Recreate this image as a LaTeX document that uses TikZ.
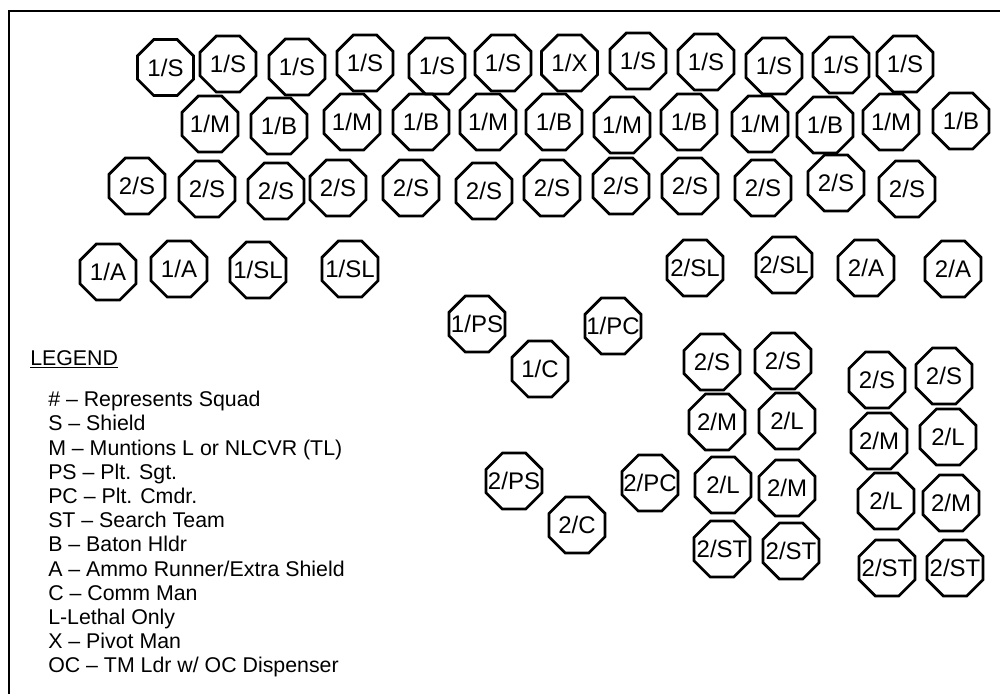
\documentclass[tikz,border=0pt]{standalone}
\usepackage{fontspec}
\setmainfont{Liberation Sans}
\usetikzlibrary{shapes.geometric}

\tikzset{
  man/.style={draw, line width=2pt, regular polygon, regular polygon sides=8,
    minimum size=45.5pt, inner sep=0pt, font=\fontsize{18}{20}\selectfont},
  legline/.style={anchor=base west, inner sep=0pt, font=\fontsize{16}{18}\selectfont}
}
\newcommand{\tag}[1]{\makebox[0pt]{#1}}

\begin{document}
\begin{tikzpicture}[x=0.75pt,y=0.75pt,yscale=-1,xscale=1]
        \useasboundingbox (0,0) rectangle (1000,694);
        
        %Frame
        \draw [line width=1.8pt] (9,694) -- (9,11) -- (1000,11) ;
        
        %Row 1 - shields and pivot
        \node [man] (t1) at (165.5,67.5) {\tag{1/S}};
        \node [man] (t2) at (228,64) {\tag{1/S}};
        \node [man] (t3) at (297,67) {\tag{1/S}};
        \node [man] (t4) at (365,63) {\tag{1/S}};
        \node [man] (t5) at (437,66) {\tag{1/S}};
        \node [man] (t6) at (503,63) {\tag{1/S}};
        \node [man] (t7) at (569.5,63) {\tag{1/X}};
        \node [man] (t8) at (638,61) {\tag{1/S}};
        \node [man] (t9) at (706,62) {\tag{1/S}};
        \node [man] (t10) at (774,66) {\tag{1/S}};
        \node [man] (t11) at (841,65) {\tag{1/S}};
        \node [man] (t12) at (905,64) {\tag{1/S}};
        
        %Row 2 - munitions and batons
        \node [man] (m1) at (210,124) {\tag{1/M}};
        \node [man] (m2) at (279,126) {\tag{1/B}};
        \node [man] (m3) at (352,122) {\tag{1/M}};
        \node [man] (m4) at (421,122) {\tag{1/B}};
        \node [man] (m5) at (488,122) {\tag{1/M}};
        \node [man] (m6) at (554,122) {\tag{1/B}};
        \node [man] (m7) at (622,125) {\tag{1/M}};
        \node [man] (m8) at (689,122) {\tag{1/B}};
        \node [man] (m9) at (760,124) {\tag{1/M}};
        \node [man] (m10) at (825,125) {\tag{1/B}};
        \node [man] (m11) at (891,122) {\tag{1/M}};
        \node [man] (m12) at (961,121) {\tag{1/B}};
        
        %Row 3 - second squad shields
        \node [man] (b1) at (137,186) {\tag{2/S}};
        \node [man] (b2) at (207,189) {\tag{2/S}};
        \node [man] (b3) at (276,191) {\tag{2/S}};
        \node [man] (b4) at (338,188) {\tag{2/S}};
        \node [man] (b5) at (411,188) {\tag{2/S}};
        \node [man] (b6) at (484,191) {\tag{2/S}};
        \node [man] (b7) at (552,188) {\tag{2/S}};
        \node [man] (b8) at (621,186) {\tag{2/S}};
        \node [man] (b9) at (690,186) {\tag{2/S}};
        \node [man] (b10) at (763,188) {\tag{2/S}};
        \node [man] (b11) at (836,183) {\tag{2/S}};
        \node [man] (b12) at (907,189) {\tag{2/S}};
        
        %Row 4 - ammo runners and squad leaders
        \node [man] (a1) at (108,272) {\tag{1/A}};
        \node [man] (a2) at (179,269) {\tag{1/A}};
        \node [man] (a3) at (258,270) {\tag{1/SL}};
        \node [man] (a4) at (350,269) {\tag{1/SL}};
        \node [man] (a5) at (695,268) {\tag{2/SL}};
        \node [man] (a6) at (784,265) {\tag{2/SL}};
        \node [man] (a7) at (866,268) {\tag{2/A}};
        \node [man] (a8) at (953,269) {\tag{2/A}};
        
        %Command group
        \node [man] (ps1) at (477,324) {\tag{1/PS}};
        \node [man] (pc1) at (613,326) {\tag{1/PC}};
        \node [man] (cm1) at (540,369) {\tag{1/C}};
        \node [man] (ps2) at (514,481) {\tag{2/PS}};
        \node [man] (pc2) at (650,483) {\tag{2/PC}};
        \node [man] (cm2) at (577,525) {\tag{2/C}};
        
        %Search block left
        \node [man] (g1) at (712,362) {\tag{2/S}};
        \node [man] (g2) at (783,361) {\tag{2/S}};
        \node [man] (g3) at (717,422) {\tag{2/M}};
        \node [man] (g4) at (787,421) {\tag{2/L}};
        \node [man] (g5) at (723,485) {\tag{2/L}};
        \node [man] (g6) at (787,488) {\tag{2/M}};
        \node [man] (g7) at (722,549) {\tag{2/ST}};
        \node [man] (g8) at (791,551) {\tag{2/ST}};
        
        %Search block right
        \node [man] (h1) at (877,380) {\tag{2/S}};
        \node [man] (h2) at (944,376) {\tag{2/S}};
        \node [man] (h3) at (879,441) {\tag{2/M}};
        \node [man] (h4) at (948,437) {\tag{2/L}};
        \node [man] (h5) at (886,501) {\tag{2/L}};
        \node [man] (h6) at (951,503) {\tag{2/M}};
        \node [man] (h7) at (887,568) {\tag{2/ST}};
        \node [man] (h8) at (955,568) {\tag{2/ST}};
        
        % Legend
        \node [legline] (legend) at (30,365) {\underline{LEGEND}};
        \node [legline] (l1) at (48,406.7) {\# – Represents Squad};
        \node [legline] (l2) at (48,430.9) {S – Shield};
        \node [legline] (l3) at (48,455.1) {M – Muntions L or NLCVR (TL)};
        \node [legline] (l4) at (48,479.3) {PS – Plt. Sgt.};
        \node [legline] (l5) at (48,503.5) {PC – Plt. Cmdr.};
        \node [legline] (l6) at (48,527.7) {ST – Search Team};
        \node [legline] (l7) at (48,551.9) {B – Baton Hldr};
        \node [legline] (l8) at (48,576.1) {A – Ammo Runner/Extra Shield};
        \node [legline] (l9) at (48,600.3) {C – Comm Man};
        \node [legline] (l10) at (48,624.5) {L-Lethal Only};
        \node [legline] (l11) at (48,648.7) {X – Pivot Man};
        \node [legline] (l12) at (48,672.9) {OC – TM Ldr w/ OC Dispenser};
        
        \end{tikzpicture}
\end{document}
